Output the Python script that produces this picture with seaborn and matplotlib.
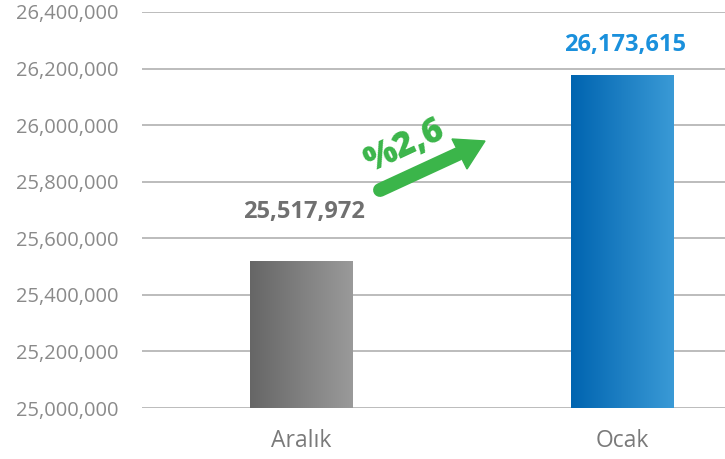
import numpy as np
import pandas as pd
import matplotlib
matplotlib.use("Agg")
import matplotlib.pyplot as plt
import seaborn as sns
from matplotlib.colors import LinearSegmentedColormap
from matplotlib.patches import Polygon
from matplotlib.lines import Line2D

categories = ["Aralık", "Ocak"]
values = [25517972, 26173615]
value_labels = ["25,517,972", "26,173,615"]
change_label = "%2,6"
y_ticks = [25000000, 25200000, 25400000, 25600000, 25800000, 26000000, 26200000, 26400000]

sns.set_theme(style="white")
plt.rcParams['font.family'] = ['Open Sans', 'DejaVu Sans']

fig = plt.figure(figsize=(7.25, 4.59), dpi=100)
ax = fig.add_axes([0.196, 0.111, 0.804, 0.863])

df = pd.DataFrame({"cat": categories, "val": values})
sns.barplot(data=df, x="cat", y="val", ax=ax, width=0.318, color="#888888", zorder=3)

ymin, ymax = y_ticks[0], y_ticks[-1]

# gradients
grads = [("#666666", "#9a9a9a"), ("#0064b0", "#3a9ad6")]
grad = np.linspace(0, 1, 256).reshape(1, -1)
for patch, (c0, c1) in zip(ax.patches, grads):
    x0, y0 = patch.get_x(), patch.get_y()
    w, h = patch.get_width(), patch.get_height()
    cmap = LinearSegmentedColormap.from_list("g", [c0, c1])
    ax.imshow(grad, cmap=cmap, extent=[x0, x0 + w, max(y0, ymin), y0 + h],
              aspect="auto", zorder=4, interpolation="bicubic")
    patch.set_facecolor("none")
    patch.set_edgecolor("none")

ax.set_ylim(ymin, ymax)
ax.set_xlim(-0.495, 1.32)
ax.set_xticks([0, 1])
ax.set_xticklabels(categories)
ax.set_yticks(y_ticks)
ax.set_yticklabels([f"{t:,}" for t in y_ticks])
ax.yaxis.grid(True, color="#b0b0b0", lw=1.2, zorder=0)
ax.xaxis.grid(False)
ax.set_axisbelow(True)
for s in ax.spines.values():
    s.set_visible(False)
ax.tick_params(axis="y", length=0, pad=17, labelsize=14.5, labelcolor="#8a8a8a")
ax.tick_params(axis="x", length=0, pad=15, labelsize=16.5, labelcolor="#7a7a7a")
ax.set_xlabel("")
ax.set_ylabel("")

# value labels
label_colors = ["#707070", "#1a90dc"]
offsets = [27, 14]
for i, (v, lab) in enumerate(zip(values, value_labels)):
    ax.annotate(lab, (i, v), xytext=(2, offsets[i]), textcoords="offset points",
                ha="center", va="bottom", fontsize=17, fontweight="bold",
                color=label_colors[i], zorder=6)

# arrow (figure pixel coords)
green = "#3bb54a"
W, H = 725, 459
def fp(x, y):
    return (x / W, 1 - y / H)
tail = fp(380, 190)
neck = fp(458, 154)
line = Line2D([tail[0], neck[0]], [tail[1], neck[1]], transform=fig.transFigure,
              color=green, lw=10, solid_capstyle="round", zorder=10)
fig.add_artist(line)
head = Polygon([fp(485, 141), fp(452, 139), fp(467, 169)], closed=True,
               transform=fig.transFigure, color=green, zorder=10)
fig.add_artist(head)
fig.text(405 / W, 1 - 146 / H, change_label, rotation=25, ha="center", va="center",
         fontsize=25, fontweight="heavy", color=green)

fig.savefig("out.png", dpi=100)
